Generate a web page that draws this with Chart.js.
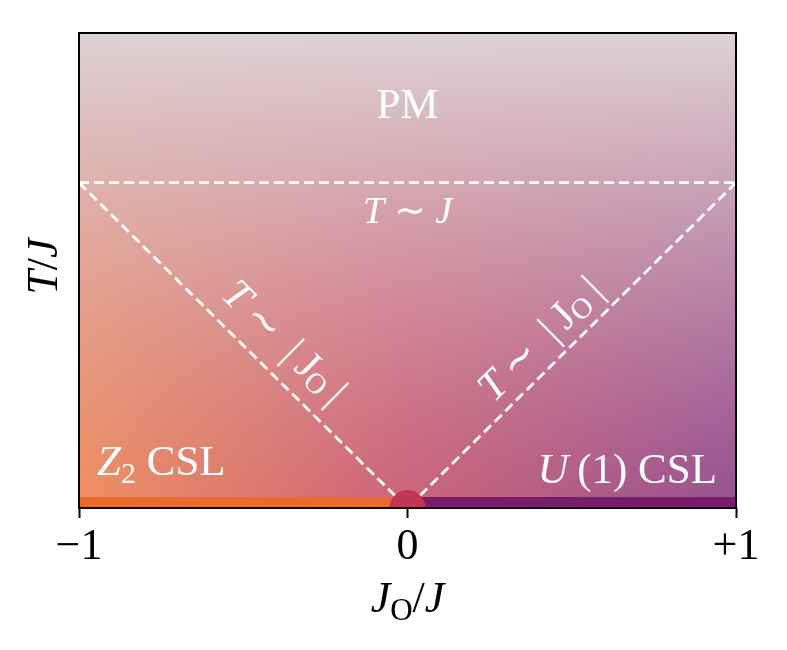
<!DOCTYPE html>
<html><head><meta charset="utf-8">
<script src="https://cdn.jsdelivr.net/npm/chart.js@4"></script>
<style>html,body{margin:0;padding:0;background:#fff}</style>
</head><body>
<canvas id="c" width="787" height="650"></canvas>
<script>
// ---- data ----
const xTickValues = [-1, 0, 1];
const xTickLabels = ['\u22121', '0', '+1'];
const xRange = [-1, 1];
const yRange = [0, 1.46];
const crossoverX = [-1, 1];
const crossoverY = [1, 1];
const coneX = [-1, 0, 1];
const coneY = [1, 0, 1];
const z2BandX = [-1, 0];
const u1BandX = [0, 1];
const bandY = [0, 0];
const criticalX = [0];
const criticalY = [0];
// colormap of the background: bottom colours along x, and top colour
const cmapX = [-1, 0, 1];
const cmapBottom = [[240, 143, 96], [203, 100, 122], [150, 82, 146]];
const cmapTop = [221, 210, 213];
// label anchors (data coords)
const labelNames = ['PM', 'TJ', 'Z2', 'U1', 'left', 'right'];
const labelX = [0, 0, -0.945, 0.942, -0.372, 0.402];
const labelY = [1.20, 0.876, 0.101, 0.077, 0.512, 0.522];

const pts = (xs, ys) => xs.map((x, i) => ({x, y: ys[i]}));
const SERIF = '"Liberation Serif", "Times New Roman", Times, serif';

function lerp(a, b, t) { return a + (b - a) * t; }
function bottomColor(x) {
  let i = 0;
  while (i < cmapX.length - 2 && x > cmapX[i + 1]) i++;
  const t = Math.min(1, Math.max(0, (x - cmapX[i]) / (cmapX[i + 1] - cmapX[i])));
  return [0, 1, 2].map(k => lerp(cmapBottom[i][k], cmapBottom[i + 1][k], t));
}

const bgPlugin = {
  id: 'phaseBg',
  beforeDatasetsDraw(chart) {
    const {ctx, chartArea: a, scales: {x: sx, y: sy}} = chart;
    const dpr = chart.currentDevicePixelRatio || 1;
    const W = Math.round((a.right - a.left) * dpr), H = Math.round((a.bottom - a.top) * dpr);
    const img = ctx.createImageData(W, H);
    for (let j = 0; j < H; j++) {
      const yv = sy.getValueForPixel(a.top + (j + 0.5) / dpr);
      const h = Math.min(1, Math.max(0, yv / yRange[1]));
      const t = Math.pow(h, 1.3);
      for (let i = 0; i < W; i++) {
        const xv = sx.getValueForPixel(a.left + (i + 0.5) / dpr);
        const b = bottomColor(xv * (1 - 0.5 * h));
        const o = (j * W + i) * 4;
        for (let k = 0; k < 3; k++) img.data[o + k] = lerp(b[k], cmapTop[k], t);
        img.data[o + 3] = 255;
      }
    }
    ctx.putImageData(img, Math.round(a.left * dpr), Math.round(a.top * dpr));
  }
};

function rich(ctx, segs, x, y, align, rot, vcenter) {
  ctx.save();
  ctx.translate(x, y);
  if (rot) ctx.rotate(rot);
  let w = 0;
  segs.forEach(s => { ctx.font = (s.it ? 'italic ' : '') + s.s + 'px ' + SERIF; s.w = ctx.measureText(s.t).width; w += s.w; });
  let cx = align === 'center' ? -w / 2 : align === 'right' ? -w : 0;
  const dy0 = vcenter ? vcenter : 0;
  ctx.textBaseline = 'alphabetic';
  ctx.textAlign = 'left';
  segs.forEach(s => {
    ctx.font = (s.it ? 'italic ' : '') + s.s + 'px ' + SERIF;
    ctx.fillText(s.t, cx, dy0 + (s.dy || 0));
    cx += s.w;
  });
  ctx.restore();
}

const textPlugin = {
  id: 'texts',
  afterDatasetsDraw(chart) {
    const {ctx, chartArea: a, scales: {x: sx, y: sy}} = chart;
    // frame
    ctx.save();
    ctx.strokeStyle = '#000';
    ctx.lineWidth = 2;
    ctx.strokeRect(a.left, a.top, a.right - a.left, a.bottom - a.top);
    ctx.restore();
    ctx.save(); ctx.fillStyle = '#fff';
    const P = n => { const i = labelNames.indexOf(n); return [sx.getPixelForValue(labelX[i]), sy.getPixelForValue(labelY[i])]; };
    const ang = Math.atan2(sy.getPixelForValue(0) - sy.getPixelForValue(1), sx.getPixelForValue(1) - sx.getPixelForValue(0));
    let p;
    p = P('PM'); rich(ctx, [{t: 'PM', s: 43}], p[0], p[1], 'center');
    p = P('TJ'); rich(ctx, [{t: 'T', it: 1, s: 38}, {t: ' \u223C ', s: 38}, {t: 'J', it: 1, s: 38}], p[0], p[1], 'center');
    p = P('Z2'); rich(ctx, [{t: 'Z', it: 1, s: 43}, {t: '2', s: 30, dy: 8}, {t: ' CSL', s: 43}], p[0], p[1], 'left');
    p = P('U1'); rich(ctx, [{t: 'U', it: 1, s: 43}, {t: '\u2009(1) CSL', s: 43}], p[0], p[1], 'right');
    const cone = [{t: 'T', it: 1, s: 42}, {t: '\u2009\u223C\u2009 ', s: 42}, {t: '|\u2009J', s: 42}, {t: 'O', s: 29, dy: 4}, {t: '\u2009|', s: 42}];
    p = P('left'); rich(ctx, cone, p[0], p[1], 'center', ang, 14);
    p = P('right'); rich(ctx, cone, p[0], p[1], 'center', -ang, 14);
    ctx.restore();
    // axis titles
    ctx.save(); ctx.fillStyle = '#000';
    const cxm = (a.left + a.right) / 2;
    rich(ctx, [{t: 'J', it: 1, s: 44}, {t: 'O', s: 31, dy: 8}, {t: '/', s: 44}, {t: 'J', it: 1, s: 44}], cxm, 612, 'center');
    rich(ctx, [{t: 'T', it: 1, s: 44}, {t: '/', s: 44}, {t: 'J', it: 1, s: 44}], 57, (a.top + a.bottom) / 2 - 4, 'center', -Math.PI / 2);
    ctx.restore();
  }
};

new Chart(document.getElementById('c'), {
  type: 'line',
  data: {
    datasets: [
      {data: pts(criticalX, criticalY), showLine: false, pointRadius: 18, pointBackgroundColor: '#C03656', pointBorderWidth: 0, clip: 0, order: 0},
      {data: pts(coneX, coneY), borderColor: '#fff', borderWidth: 2.8, borderDash: [10, 5], pointRadius: 0, clip: 0, order: 1},
      {data: pts(crossoverX, crossoverY), borderColor: '#fff', borderWidth: 2.8, borderDash: [10, 5], pointRadius: 0, clip: 0, order: 1},
      {data: pts(z2BandX, bandY), borderColor: '#EC6A2A', borderWidth: 22, borderCapStyle: 'butt', pointRadius: 0, clip: 0, order: 2},
      {data: pts(u1BandX, bandY), borderColor: '#7A1C6C', borderWidth: 22, borderCapStyle: 'butt', pointRadius: 0, clip: 0, order: 2}
    ]
  },
  options: {
    responsive: false,
    animation: false,
    layout: {padding: {left: 79, right: 51, top: 33, bottom: 0}},
    plugins: {legend: {display: false}, tooltip: {enabled: false}},
    elements: {line: {tension: 0}},
    scales: {
      x: {
        type: 'linear', min: xRange[0], max: xRange[1],
        afterBuildTicks: s => { s.ticks = xTickValues.map(v => ({value: v})); },
        afterFit: s => { s.height = 142; },
        border: {display: false},
        grid: {drawOnChartArea: false, drawTicks: true, tickLength: 10, tickWidth: 2, tickColor: '#000'},
        ticks: {color: '#000', padding: 3, maxRotation: 0, autoSkip: false,
          font: {family: SERIF, size: 44},
          callback: v => xTickLabels[xTickValues.indexOf(v)] }
      },
      y: {type: 'linear', min: yRange[0], max: yRange[1], display: false}
    }
  },
  plugins: [bgPlugin, textPlugin]
});
</script>
</body></html>
